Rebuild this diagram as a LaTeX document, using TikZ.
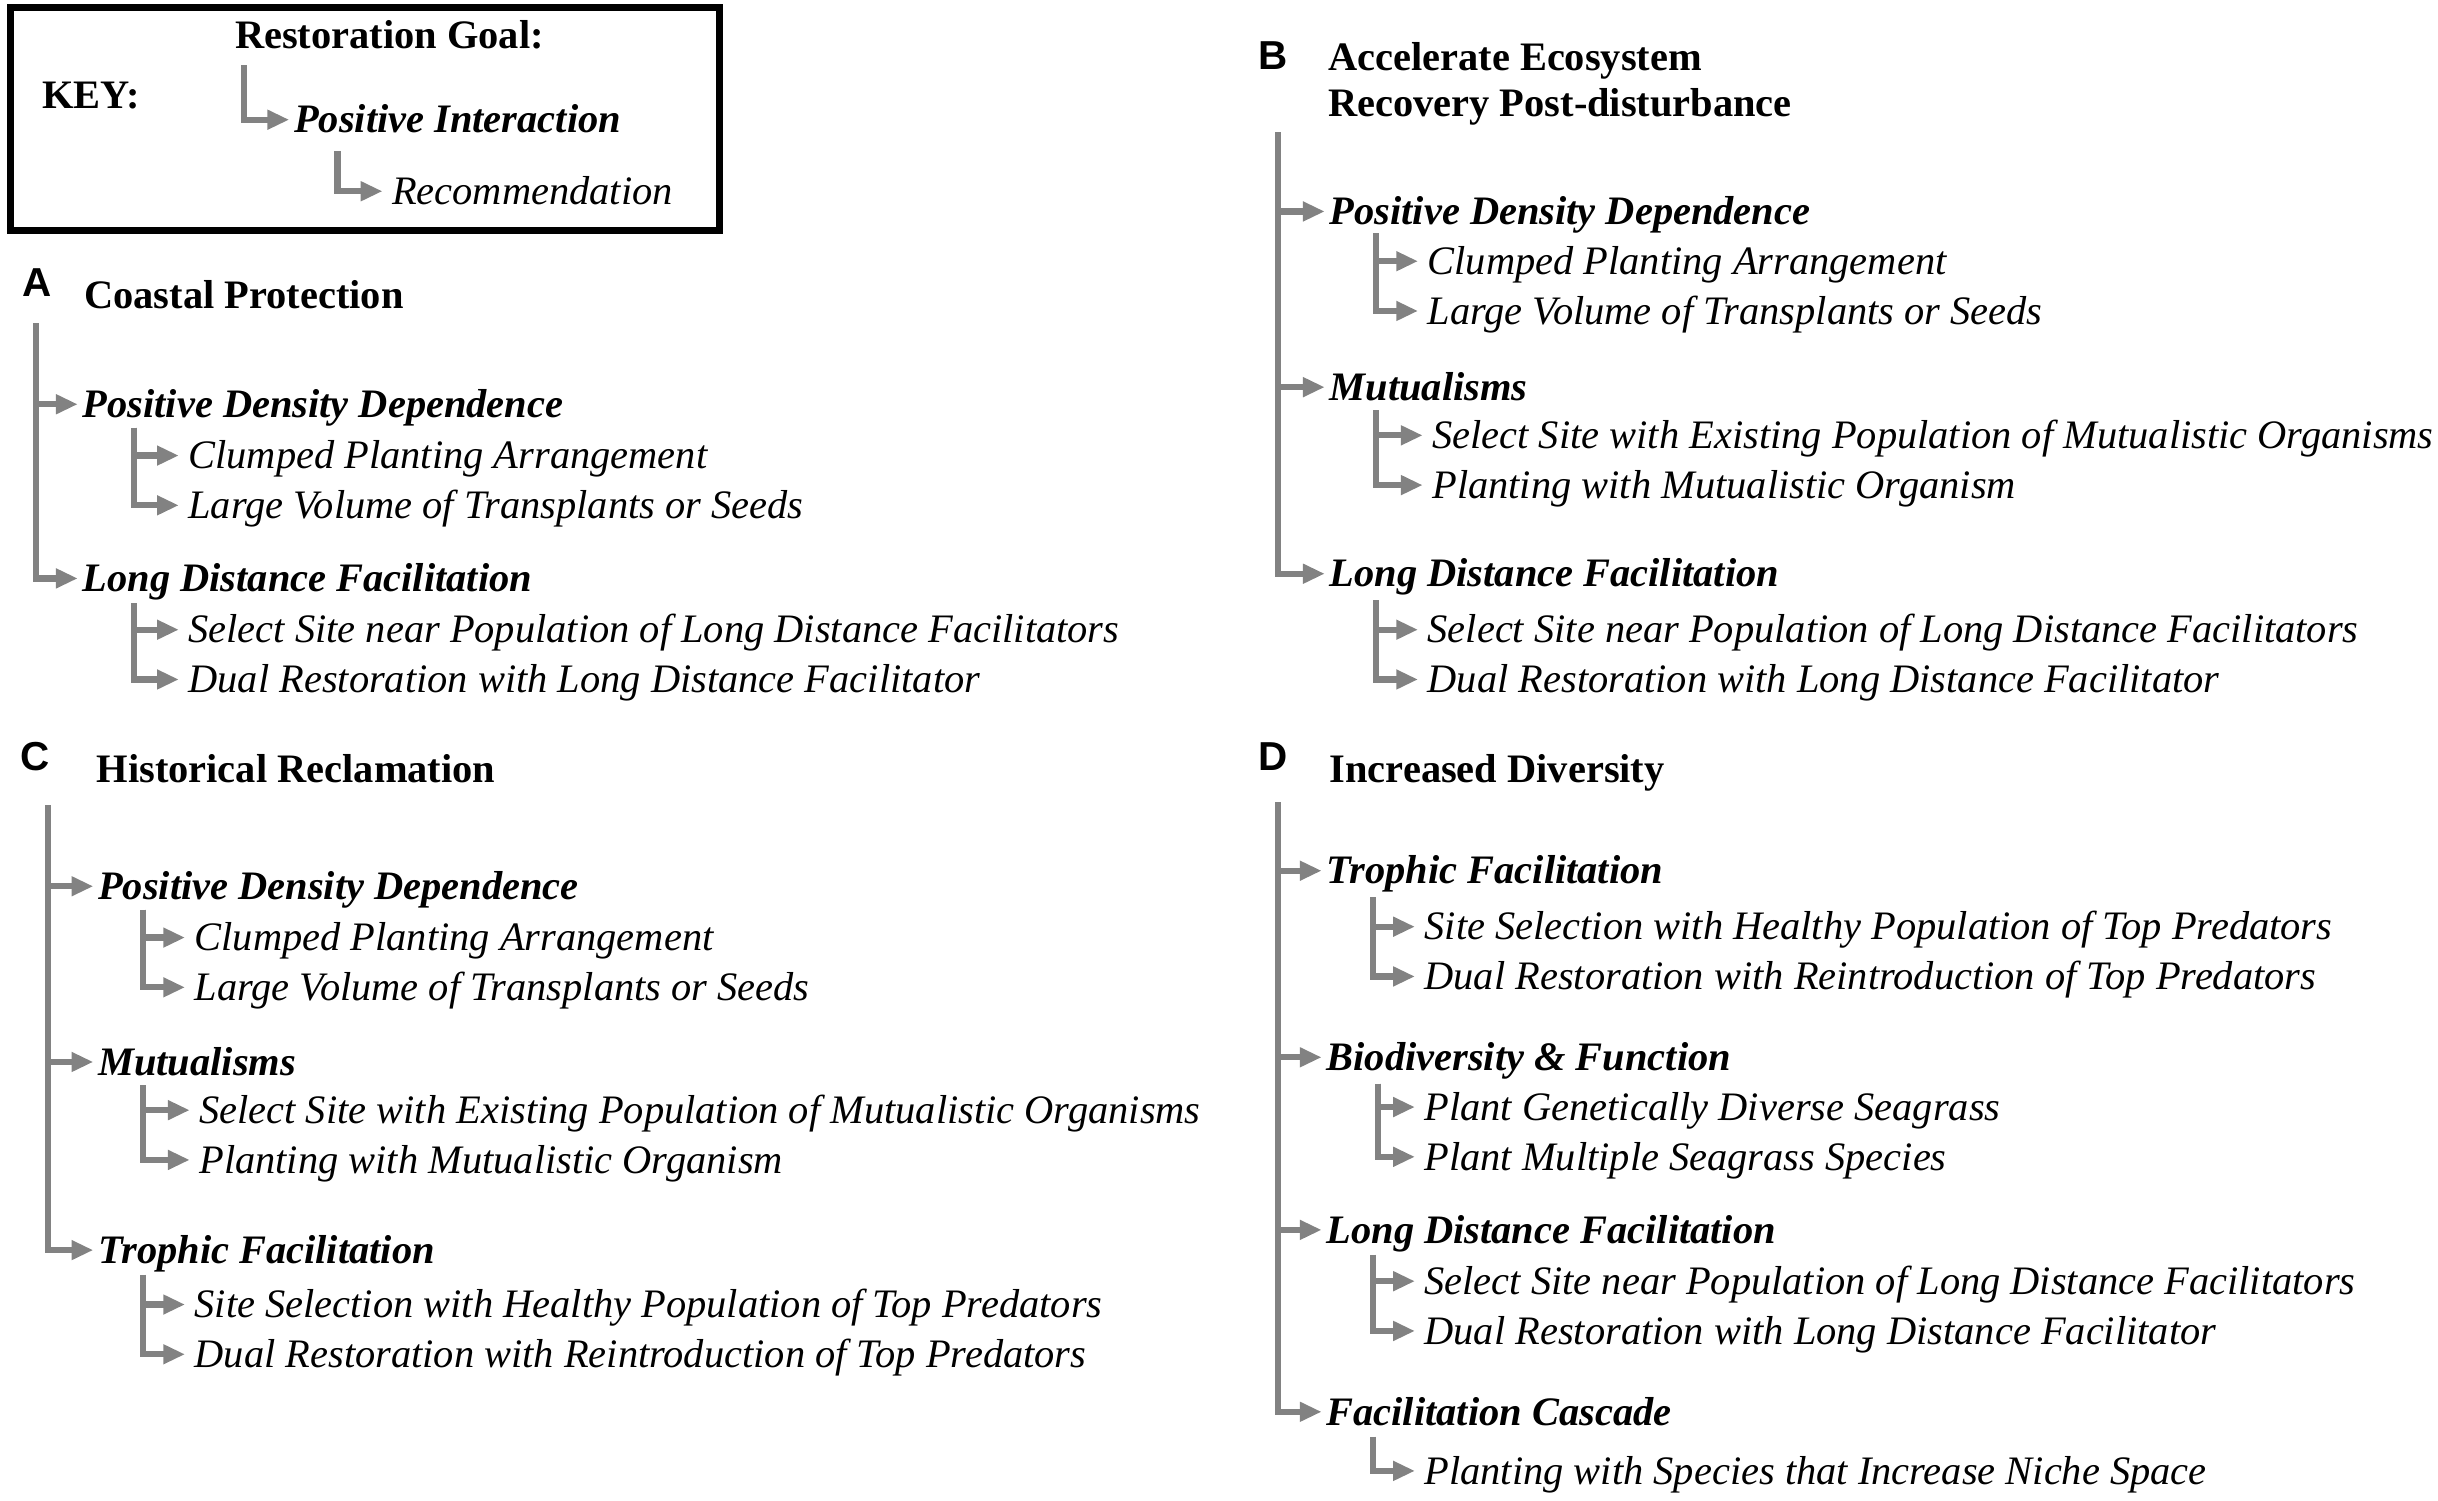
\documentclass[tikz,border=0pt]{standalone}
\usepackage{fontspec}
\setmainfont{Liberation Serif}
\newfontfamily\lettersf{Liberation Sans}
\usepackage{tikz}
\usetikzlibrary{arrows.meta}
\definecolor{cLine}{RGB}{130,130,130}
\newcommand{\txtsize}{\fontsize{26}{30}\selectfont}
\tikzset{
	conn/.style ={-{Triangle[length=14pt, width=12pt]}, line width=4pt, cLine},
	panel/.style={anchor=west, inner sep=0pt, text height=17pt, text depth=0pt, font=\txtsize\lettersf\bfseries},
	goal/.style ={anchor=west, inner sep=0pt, text height=17pt, text depth=0pt, font=\txtsize\bfseries},
	inter/.style={anchor=west, inner xsep=3pt, inner ysep=0pt, text height=17pt, text depth=0pt, font=\txtsize\bfseries\itshape},
	recom/.style={anchor=west, inner xsep=6pt, inner ysep=0pt, text height=17pt, text depth=0pt, font=\txtsize\itshape},
}
\begin{document}
\begin{tikzpicture}[x=1pt, y=-1pt]
	\useasboundingbox (0,0) rectangle (1568,965);
	% key
	\draw[line width=4.5pt] (7,5) rectangle (463,148);
	\node[goal] (kKey) at (27,61) {KEY:};
	\node[goal] (kGoal) at (151,23) {Restoration Goal:};
	\coordinate (k1) at (157,42);
	\node[inter] (kInter) at (186,77) {Positive Interaction};
	\coordinate (k2) at (217,97);
	\node[recom] (kRec) at (246,123) {Recommendation};
	\draw[conn] (k1) |- (kInter.west);
	\draw[conn] (k2) |- (kRec.west);

	% A: coastal protection
	\node[panel] (lA) at (14,182) {A};
	\node[goal] (gA) at (54,190) {Coastal Protection};
	\coordinate (A0) at (23,208);
	\node[inter] (A1) at (50,260) {Positive Density Dependence};
	\coordinate (A1t) at (86,275);
	\node[recom] (A11) at (115,293) {Clumped Planting Arrangement};
	\node[recom] (A12) at (115,325) {Large Volume of Transplants or Seeds};
	\node[inter] (A2) at (50,372) {Long Distance Facilitation};
	\coordinate (A2t) at (86,388);
	\node[recom] (A21) at (115,405) {Select Site near Population of Long Distance Facilitators};
	\node[recom] (A22) at (115,437) {Dual Restoration with Long Distance Facilitator};
	\draw[conn] (A0) |- (A1.west);
	\draw[conn] (A0) |- (A2.west);
	\draw[conn] (A1t) |- (A11.west);
	\draw[conn] (A1t) |- (A12.west);
	\draw[conn] (A2t) |- (A21.west);
	\draw[conn] (A2t) |- (A22.west);

	% B: accelerate recovery
	\node[panel] (lB) at (809,36) {B};
	\node[anchor=north west, inner sep=0pt, align=left, font=\txtsize\bfseries] (gB) at (854,27) {Accelerate Ecosystem\\Recovery Post-disturbance};
	\coordinate (B0) at (822,85);
	\node[inter] (B1) at (852,136) {Positive Density Dependence};
	\coordinate (B1t) at (885,150);
	\node[recom] (B11) at (912,168) {Clumped Planting Arrangement};
	\node[recom] (B12) at (912,200) {Large Volume of Transplants or Seeds};
	\node[inter] (B2) at (852,249) {Mutualisms};
	\coordinate (B2t) at (885,264);
	\node[recom] (B21) at (915,280) {Select Site with Existing Population of Mutualistic Organisms};
	\node[recom] (B22) at (915,312) {Planting with Mutualistic Organism};
	\node[inter] (B3) at (852,369) {Long Distance Facilitation};
	\coordinate (B3t) at (885,386);
	\node[recom] (B31) at (912,405) {Select Site near Population of Long Distance Facilitators};
	\node[recom] (B32) at (912,437) {Dual Restoration with Long Distance Facilitator};
	\draw[conn] (B0) |- (B1.west);
	\draw[conn] (B0) |- (B2.west);
	\draw[conn] (B0) |- (B3.west);
	\draw[conn] (B1t) |- (B11.west);
	\draw[conn] (B1t) |- (B12.west);
	\draw[conn] (B2t) |- (B21.west);
	\draw[conn] (B2t) |- (B22.west);
	\draw[conn] (B3t) |- (B31.west);
	\draw[conn] (B3t) |- (B32.west);

	% C: historical reclamation
	\node[panel] (lC) at (13,487) {C};
	\node[goal] (gC) at (62,495) {Historical Reclamation};
	\coordinate (C0) at (31,518);
	\node[inter] (C1) at (60,570) {Positive Density Dependence};
	\coordinate (C1t) at (92,585);
	\node[recom] (C11) at (119,603) {Clumped Planting Arrangement};
	\node[recom] (C12) at (119,635) {Large Volume of Transplants or Seeds};
	\node[inter] (C2) at (60,683) {Mutualisms};
	\coordinate (C2t) at (92,698);
	\node[recom] (C21) at (122,714) {Select Site with Existing Population of Mutualistic Organisms};
	\node[recom] (C22) at (122,746) {Planting with Mutualistic Organism};
	\node[inter] (C3) at (60,804) {Trophic Facilitation};
	\coordinate (C3t) at (92,820);
	\node[recom] (C31) at (119,839) {Site Selection with Healthy Population of Top Predators};
	\node[recom] (C32) at (119,871) {Dual Restoration with Reintroduction of Top Predators};
	\draw[conn] (C0) |- (C1.west);
	\draw[conn] (C0) |- (C2.west);
	\draw[conn] (C0) |- (C3.west);
	\draw[conn] (C1t) |- (C11.west);
	\draw[conn] (C1t) |- (C12.west);
	\draw[conn] (C2t) |- (C21.west);
	\draw[conn] (C2t) |- (C22.west);
	\draw[conn] (C3t) |- (C31.west);
	\draw[conn] (C3t) |- (C32.west);

	% D: increased diversity
	\node[panel] (lD) at (809,487) {D};
	\node[goal] (gD) at (855,495) {Increased Diversity};
	\coordinate (D0) at (822,516);
	\node[inter] (D1) at (850,560) {Trophic Facilitation};
	\coordinate (D1t) at (883,577);
	\node[recom] (D11) at (910,596) {Site Selection with Healthy Population of Top Predators};
	\node[recom] (D12) at (910,628) {Dual Restoration with Reintroduction of Top Predators};
	\node[inter] (D2) at (850,680) {Biodiversity \& Function};
	\coordinate (D2t) at (886,697);
	\node[recom] (D21) at (910,712) {Plant Genetically Diverse Seagrass};
	\node[recom] (D22) at (910,744) {Plant Multiple Seagrass Species};
	\node[inter] (D3) at (850,791) {Long Distance Facilitation};
	\coordinate (D3t) at (883,807);
	\node[recom] (D31) at (910,824) {Select Site near Population of Long Distance Facilitators};
	\node[recom] (D32) at (910,856) {Dual Restoration with Long Distance Facilitator};
	\node[inter] (D4) at (850,908) {Facilitation Cascade};
	\coordinate (D4t) at (883,924);
	\node[recom] (D41) at (910,946) {Planting with Species that Increase Niche Space};
	\draw[conn] (D0) |- (D1.west);
	\draw[conn] (D0) |- (D2.west);
	\draw[conn] (D0) |- (D3.west);
	\draw[conn] (D0) |- (D4.west);
	\draw[conn] (D1t) |- (D11.west);
	\draw[conn] (D1t) |- (D12.west);
	\draw[conn] (D2t) |- (D21.west);
	\draw[conn] (D2t) |- (D22.west);
	\draw[conn] (D3t) |- (D31.west);
	\draw[conn] (D3t) |- (D32.west);
	\draw[conn] (D4t) |- (D41.west);
\end{tikzpicture}
\end{document}
